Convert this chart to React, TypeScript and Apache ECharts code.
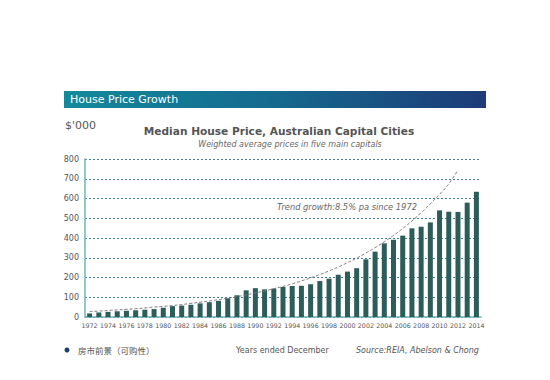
import React, { useEffect, useRef } from "react";
import * as echarts from "echarts";

const years: string[] = [
  "1972","1973","1974","1975","1976","1977","1978","1979","1980","1981",
  "1982","1983","1984","1985","1986","1987","1988","1989","1990","1991",
  "1992","1993","1994","1995","1996","1997","1998","1999","2000","2001",
  "2002","2003","2004","2005","2006","2007","2008","2009","2010","2011",
  "2012","2013","2014",
];

const medianPrice: number[] = [
  18, 23, 26, 29, 32, 34, 37, 40, 47, 55,
  58, 62, 69, 75, 82, 95, 110, 135, 146, 140,
  144, 152, 157, 158, 166, 182, 194, 214, 230, 247,
  292, 331, 373, 391, 412, 449, 457, 479, 540, 533,
  532, 579, 634,
];

// dashed trend curve (ends around 2012)
const trendLine: (number | null)[] = [
  28, 30, 33, 36, 39, 42, 46, 50, 54, 58,
  63, 69, 75, 81, 88, 95, 103, 112, 122, 132,
  143, 155, 168, 183, 198, 215, 233, 253, 275, 298,
  324, 351, 381, 413, 448, 486, 528, 573, 621, 674,
  745, null, null,
];

const yTicks = { min: 0, max: 800, interval: 100 };

const FONT = "DejaVu Sans";

export default function App() {
  const ref = useRef<HTMLDivElement>(null);

  useEffect(() => {
    if (!ref.current) return;
    const chart = echarts.init(ref.current, null, { renderer: "svg" });
    chart.setOption({
      animation: false,
      backgroundColor: "#ffffff",
      textStyle: { fontFamily: FONT },
      grid: { left: 85, right: 69, top: 159, bottom: 63, containLabel: false },
      xAxis: {
        type: "category",
        data: years,
        boundaryGap: true,
        axisLine: { lineStyle: { color: "#6fb3bd", width: 1.5 } },
        axisTick: { show: false },
        axisLabel: {
          interval: 1,
          fontSize: 6.3,
          color: "#555",
          margin: 5,
          fontFamily: FONT,
        },
        splitLine: { show: false },
      },
      yAxis: {
        type: "value",
        min: yTicks.min,
        max: yTicks.max,
        interval: yTicks.interval,
        axisLine: { show: true, lineStyle: { color: "#6fb3bd", width: 1.5 } },
        axisTick: { show: false },
        axisLabel: { fontSize: 8, color: "#555", margin: 6, fontFamily: FONT },
        splitLine: {
          show: true,
          lineStyle: { color: "#3f8192", type: [2, 2], width: 1 },
        },
      },
      series: [
        {
          type: "bar",
          data: medianPrice,
          barWidth: 5,
          itemStyle: { color: "#2c5d5a" },
          z: 2,
        },
        {
          type: "line",
          data: trendLine,
          smooth: true,
          symbol: "none",
          connectNulls: false,
          lineStyle: { color: "#7a7a7a", width: 1, type: [3, 2] },
          z: 3,
        },
      ],
      graphic: [
        {
          type: "rect",
          shape: { x: 64, y: 91, width: 422, height: 17 },
          style: {
            fill: new echarts.graphic.LinearGradient(0, 0, 1, 0, [
              { offset: 0, color: "#138a9c" },
              { offset: 0.5, color: "#15698f" },
              { offset: 1, color: "#1d3b78" },
            ]),
          },
        },
        {
          type: "text",
          x: 70,
          y: 99.5,
          style: {
            text: "House Price Growth",
            fill: "#ffffff",
            font: `11px ${FONT}`,
            verticalAlign: "middle",
          },
        },
        {
          type: "text",
          x: 65,
          y: 125,
          style: {
            text: "$'000",
            fill: "#555",
            font: `11px ${FONT}`,
            verticalAlign: "middle",
          },
        },
        {
          type: "text",
          x: 279,
          y: 131,
          style: {
            text: "Median House Price, Australian Capital Cities",
            fill: "#555",
            font: `bold 10.6px ${FONT}`,
            align: "center",
            verticalAlign: "middle",
          },
        },
        {
          type: "text",
          x: 290,
          y: 144,
          style: {
            text: "Weighted average prices in five main capitals",
            fill: "#666",
            font: `italic 8px ${FONT}`,
            align: "center",
            verticalAlign: "middle",
          },
        },
        {
          type: "text",
          x: 277,
          y: 207,
          style: {
            text: "Trend growth:8.5% pa since 1972",
            fill: "#666",
            font: `italic 8.3px ${FONT}`,
            verticalAlign: "middle",
          },
        },
        {
          type: "circle",
          shape: { cx: 67, cy: 350, r: 2.5 },
          style: { fill: "#1f3d6b" },
        },
        {
          type: "text",
          x: 78,
          y: 350,
          style: {
            text: "房市前景（可购性）",
            fill: "#555",
            font: `8.5px "Noto Sans CJK SC"`,
            verticalAlign: "middle",
          },
        },
        {
          type: "text",
          x: 236,
          y: 350,
          style: {
            text: "Years ended December",
            fill: "#555",
            font: `8px ${FONT}`,
            verticalAlign: "middle",
          },
        },
        {
          type: "text",
          x: 356,
          y: 350,
          style: {
            text: "Source:REIA, Abelson & Chong",
            fill: "#555",
            font: `italic 8px ${FONT}`,
            verticalAlign: "middle",
          },
        },
      ],
    });
    return () => chart.dispose();
  }, []);

  return (
    <div
      ref={ref}
      style={{
        position: "fixed",
        left: 0,
        top: 0,
        width: 550,
        height: 380,
        background: "#fff",
      }}
    />
  );
}
